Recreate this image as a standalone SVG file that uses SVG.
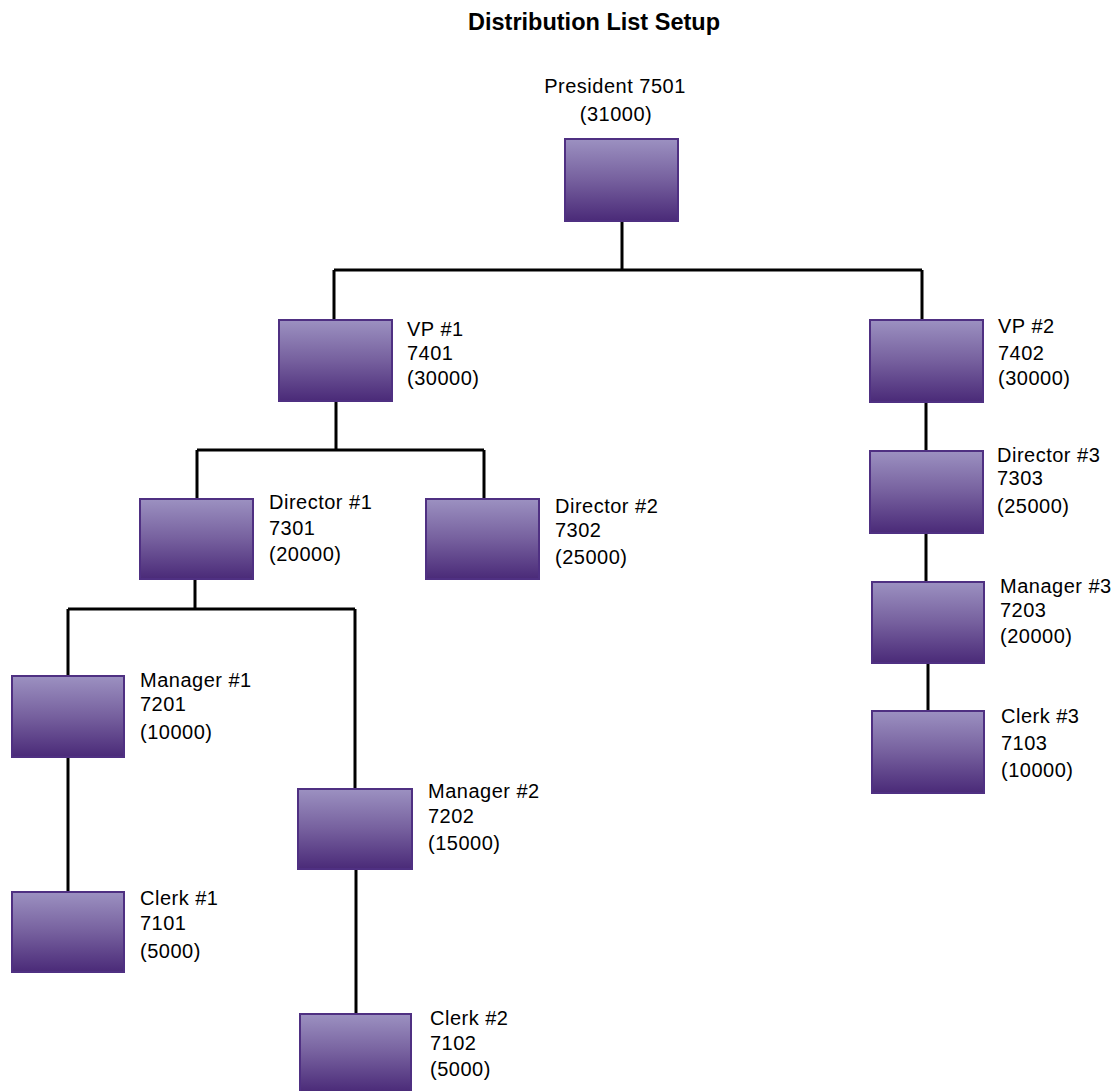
<svg xmlns="http://www.w3.org/2000/svg" width="1117" height="1091" viewBox="0 0 1117 1091">
<defs>
<linearGradient id="g" x1="0" y1="0" x2="0" y2="1">
<stop offset="0" stop-color="#9c91c1"/>
<stop offset="0.5" stop-color="#76609e"/>
<stop offset="1" stop-color="#4a2a78"/>
</linearGradient>
</defs>
<style>
.box{fill:url(#g);stroke:#4f3082;stroke-width:2}
.t{font-family:"Liberation Sans",Arial,sans-serif;font-size:20px;fill:#000;letter-spacing:0.5px}
.title{font-family:"Liberation Sans",Arial,sans-serif;font-size:23px;font-weight:bold;fill:#000}
.c{fill:none;stroke:#000;stroke-width:3}
</style>
<rect width="1117" height="1091" fill="#fff"/>
<text class="title" x="594" y="30" text-anchor="middle" textLength="252" lengthAdjust="spacingAndGlyphs">Distribution List Setup</text>
<g id="connectors">
<path class="c" d="M622 221V270M334 270H922M334 270V320M922 270V320"/>
<path class="c" d="M336 401V450M197 450H484M197 450V499M484 450V499"/>
<path class="c" d="M195 579V609M68 609H355M68 609V676M355 609V789"/>
<path class="c" d="M68 757V892"/>
<path class="c" d="M356 869V1014"/>
<path class="c" d="M926 403V452M926 533V583M928 663V711"/>
</g>
<g id="president">
<rect class="box" x="565" y="139" width="113" height="82"/>
<text class="t" x="615" y="93" text-anchor="middle">President 7501</text>
<text class="t" x="616" y="121" text-anchor="middle">(31000)</text>
</g>
<g id="vp1">
<rect class="box" x="279" y="320" width="113" height="81"/>
<text class="t" x="407" y="336">VP #1</text>
<text class="t" x="407" y="360">7401</text>
<text class="t" x="407" y="385">(30000)</text>
</g>
<g id="vp2">
<rect class="box" x="870" y="320" width="113" height="82"/>
<text class="t" x="998" y="333">VP #2</text>
<text class="t" x="998" y="360">7402</text>
<text class="t" x="998" y="385">(30000)</text>
</g>
<g id="director1">
<rect class="box" x="140" y="499" width="113" height="80"/>
<text class="t" x="269" y="509">Director #1</text>
<text class="t" x="269" y="535">7301</text>
<text class="t" x="269" y="561">(20000)</text>
</g>
<g id="director2">
<rect class="box" x="426" y="499" width="113" height="80"/>
<text class="t" x="555" y="513">Director #2</text>
<text class="t" x="555" y="537">7302</text>
<text class="t" x="555" y="564">(25000)</text>
</g>
<g id="director3">
<rect class="box" x="870" y="451" width="113" height="82"/>
<text class="t" x="997" y="462">Director #3</text>
<text class="t" x="997" y="485">7303</text>
<text class="t" x="997" y="513">(25000)</text>
</g>
<g id="manager1">
<rect class="box" x="12" y="676" width="112" height="81"/>
<text class="t" x="140" y="687">Manager #1</text>
<text class="t" x="140" y="711">7201</text>
<text class="t" x="140" y="739">(10000)</text>
</g>
<g id="manager2">
<rect class="box" x="298" y="789" width="114" height="80"/>
<text class="t" x="428" y="798">Manager #2</text>
<text class="t" x="428" y="823">7202</text>
<text class="t" x="428" y="850">(15000)</text>
</g>
<g id="manager3">
<rect class="box" x="872" y="582" width="112" height="81"/>
<text class="t" x="1000" y="593">Manager #3</text>
<text class="t" x="1000" y="617">7203</text>
<text class="t" x="1000" y="643">(20000)</text>
</g>
<g id="clerk1">
<rect class="box" x="12" y="892" width="112" height="80"/>
<text class="t" x="140" y="905">Clerk #1</text>
<text class="t" x="140" y="930">7101</text>
<text class="t" x="140" y="958">(5000)</text>
</g>
<g id="clerk2">
<rect class="box" x="300" y="1014" width="111" height="78"/>
<text class="t" x="430" y="1025">Clerk #2</text>
<text class="t" x="430" y="1050">7102</text>
<text class="t" x="430" y="1076">(5000)</text>
</g>
<g id="clerk3">
<rect class="box" x="872" y="711" width="112" height="82"/>
<text class="t" x="1001" y="723">Clerk #3</text>
<text class="t" x="1001" y="750">7103</text>
<text class="t" x="1001" y="777">(10000)</text>
</g>
</svg>
